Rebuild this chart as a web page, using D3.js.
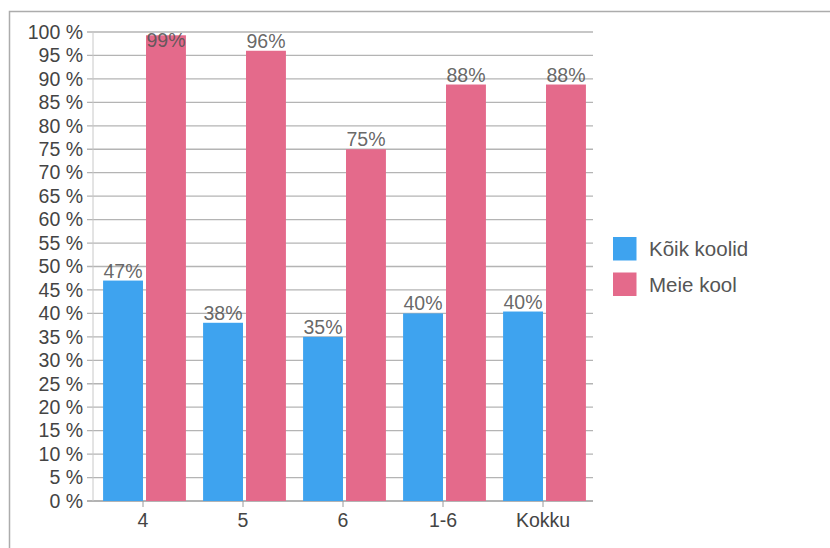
<!DOCTYPE html>
<html>
<head>
<meta charset="utf-8">
<script src="https://cdn.jsdelivr.net/npm/d3@7"></script>
<style>
  html, body { margin: 0; padding: 0; background: #fff; }
  svg { display: block; font-family: "Liberation Sans", Arial, Helvetica, sans-serif; }
</style>
</head>
<body>
<svg id="chart" width="830" height="548"></svg>
<script>
const categories = ["4", "5", "6", "1-6", "Kokku"];
const seriesNames = ["Kõik koolid", "Meie kool"];
const allSchools = [47, 38, 35, 40, 40.4];
const ourSchool = [99.3, 96, 75, 88.8, 88.8];
const yTicks = d3.range(0, 101, 5);
const colors = ["#3ea3ef", "#e46a8b"];

const svg = d3.select("#chart");
const margin = { left: 93, right: 237, top: 32, bottom: 47 };
const W = 830, H = 548;

// outer frame
svg.append("rect").attr("x", 9.5).attr("y", 11.5).attr("width", 900).attr("height", 700)
  .attr("fill", "none").attr("stroke", "#acacac").attr("stroke-width", 1.5);

const x = d3.scaleBand().domain(categories).range([margin.left, W - margin.right]);
const y = d3.scaleLinear().domain([0, 100]).range([H - margin.bottom, margin.top]);

// gridlines
svg.append("g").selectAll("line").data(yTicks).join("line")
  .attr("x1", margin.left - 6).attr("x2", W - margin.right)
  .attr("y1", d => y(d)).attr("y2", d => y(d))
  .attr("stroke", d => d === 0 ? "#9a9a9a" : "#b4b4b4").attr("stroke-width", 1.3);

// y axis line
svg.append("line").attr("x1", margin.left).attr("x2", margin.left)
  .attr("y1", y(100)).attr("y2", y(0)).attr("stroke", "#c8c8c8").attr("stroke-width", 1);

// y labels
const yAxis = d3.axisLeft(y).tickValues(yTicks).tickFormat(d => d + " %").tickSize(0).tickPadding(10);
const gy = svg.append("g").attr("transform", `translate(${margin.left},0)`).call(yAxis);
gy.select(".domain").remove();
gy.selectAll("text").attr("font-size", 19.5).attr("fill", "#444").attr("font-family", "Liberation Sans, Arial, sans-serif");

// x ticks and labels
const xAxis = d3.axisBottom(x).tickSize(6).tickPadding(6);
const gx = svg.append("g").attr("transform", `translate(0,${y(0)})`).call(xAxis);
gx.select(".domain").remove();
gx.selectAll("line").attr("stroke", "#9a9a9a");
gx.selectAll("text").attr("font-size", 19.5).attr("fill", "#444").attr("font-family", "Liberation Sans, Arial, sans-serif");

// bars
const sub = d3.scaleBand().domain([0, 1]).range([0, x.bandwidth()]).paddingInner(0.07).paddingOuter(0.2);
const data = categories.map((c, i) => ({ c, vals: [allSchools[i], ourSchool[i]] }));
const groups = svg.append("g").selectAll("g").data(data).join("g")
  .attr("transform", d => `translate(${x(d.c) + 1.5},0)`);

groups.selectAll("rect").data(d => d.vals.map((v, k) => ({ v, k }))).join("rect")
  .attr("x", d => sub(d.k)).attr("width", sub.bandwidth())
  .attr("y", d => y(d.v)).attr("height", d => y(0) - y(d.v))
  .attr("fill", d => colors[d.k]);

groups.selectAll("text").data(d => d.vals.map((v, k) => ({ v, k }))).join("text")
  .attr("x", d => sub(d.k) + sub.bandwidth() / 2)
  .attr("y", d => Math.max(y(d.v) - 3, margin.top + 15))
  .attr("text-anchor", "middle")
  .attr("font-size", 19.5).attr("fill", "#555").attr("fill-opacity", 0.9)
  .text(d => Math.floor(d.v) + "%");

// legend
const legend = svg.append("g").attr("transform", "translate(613,237)");
seriesNames.forEach((name, i) => {
  const g = legend.append("g").attr("transform", `translate(0,${i * 35.5})`);
  g.append("rect").attr("width", 23.5).attr("height", 23.5).attr("fill", colors[i]);
  g.append("text").attr("x", 36).attr("y", 12).attr("dy", "0.35em")
    .attr("font-size", 20.5).attr("fill", "#555").text(name);
});
</script>
</body>
</html>
